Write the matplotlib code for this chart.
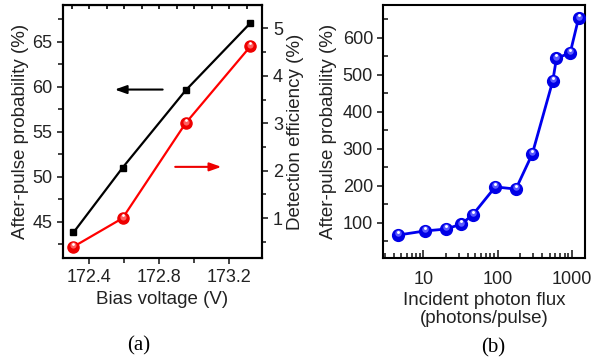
import matplotlib
matplotlib.use('Agg')
import matplotlib.pyplot as plt
from matplotlib.ticker import MultipleLocator, LogLocator, NullFormatter
from matplotlib.transforms import offset_copy

# panel (a): bias voltage sweep
bias_v = [172.31, 172.59, 172.95, 173.32]
afterpulse_pct = [43.8, 51.0, 59.6, 67.1]
det_eff_pct = [0.40, 1.00, 3.00, 4.62]

# panel (b): after-pulse vs incident flux
flux = [4.6, 10.5, 20, 32, 46, 93, 176, 293, 553, 620, 950, 1230]
afterpulse_flux = [67, 78, 83, 96, 121, 197, 191, 286, 483, 544, 559, 652]

plt.rcParams['font.family'] = ['Liberation Sans', 'DejaVu Sans']
TXT = '#222222'
FS = 13


def ball(ax, x, y, color, light, size):
    # fake shaded sphere marker: base, lighter core, white glint
    ax.plot(x, y, 'o', ms=size, color=color, mec=color, zorder=4)
    tr = offset_copy(ax.transData, fig=ax.figure, x=0, y=1.2, units='points')
    ax.plot(x, y, 'o', ms=size * 0.55, color=light, mec='none', zorder=5, transform=tr)
    tr2 = offset_copy(ax.transData, fig=ax.figure, x=0, y=2.2, units='points')
    ax.plot(x, y, 'o', ms=size * 0.25, color='white', mec='none', zorder=6, transform=tr2)


fig = plt.figure(figsize=(6.02, 3.61), dpi=100)
ax1 = fig.add_axes([0.104, 0.285, 0.332, 0.701])
ax2 = ax1.twinx()
ax3 = fig.add_axes([0.637, 0.285, 0.335, 0.701])

# ---- (a)
ax1.plot(bias_v, afterpulse_pct, '-s', color='black', lw=1.6, ms=4.5, zorder=3)
ax2.plot(bias_v, det_eff_pct, '-', color='#ff0000', lw=1.6, zorder=3)
ball(ax2, bias_v, det_eff_pct, '#ee0000', '#ff6060', 8)

ax1.set_xlim(172.248, 173.389)
ax1.set_ylim(40.95, 69.1)
ax2.set_ylim(0.16, 5.49)
ax1.xaxis.set_major_locator(MultipleLocator(0.4))
ax1.xaxis.set_minor_locator(MultipleLocator(0.2))
ax1.yaxis.set_major_locator(MultipleLocator(5))
ax1.yaxis.set_minor_locator(MultipleLocator(2.5))
ax2.yaxis.set_major_locator(MultipleLocator(1))
ax2.yaxis.set_minor_locator(MultipleLocator(0.5))
ax1.tick_params(axis='both', which='both', direction='out', labelsize=FS,
                colors=TXT, width=1.2, top=False)
ax1.tick_params(which='major', length=4)
ax1.tick_params(which='minor', length=3.5)
ax2.tick_params(axis='y', which='both', direction='out', labelsize=FS,
                colors=TXT, width=1.2)
ax2.tick_params(which='major', length=4)
ax2.tick_params(which='minor', length=3)
for a in (ax1, ax2):
    for s in a.spines.values():
        s.set_linewidth(1.5)

# inward top ticks every 0.1 V
top = ax1.secondary_xaxis('top')
top.xaxis.set_major_locator(MultipleLocator(0.1))
top.xaxis.set_major_formatter(NullFormatter())
top.tick_params(direction='in', length=3, width=1.2)

ax1.set_xlabel('Bias voltage (V)', fontsize=13.5, color=TXT, labelpad=4)
ax1.set_ylabel('After-pulse probability (%)', fontsize=13.5, color=TXT, labelpad=2)
ax2.set_ylabel('Detection efficiency (%)', fontsize=13.5, color=TXT, labelpad=3)

ax1.annotate('', xy=(172.53, 59.7), xytext=(172.835, 59.7),
             arrowprops=dict(arrowstyle='-|>,head_length=0.7,head_width=0.25',
                             color='black', lw=1.5))
ax1.annotate('', xy=(173.17, 51.1), xytext=(172.875, 51.1),
             arrowprops=dict(arrowstyle='-|>,head_length=0.7,head_width=0.25',
                             color='#ee0000', lw=1.5))

# ---- (b)
ax3.plot(flux, afterpulse_flux, '-', color='#0000ee', lw=2.0, zorder=3)
ball(ax3, flux, afterpulse_flux, '#0000e6', '#5a5aff', 8.5)
ax3.set_xscale('log')
ax3.set_xlim(2.9, 1510)
ax3.set_ylim(4.6, 688)
ax3.xaxis.set_minor_locator(LogLocator(base=10, subs=range(2, 10), numticks=10))
ax3.xaxis.set_minor_formatter(NullFormatter())
ax3.yaxis.set_minor_locator(MultipleLocator(50))
ax3.set_xticks([10, 100, 1000])
ax3.set_xticklabels(['10', '100', '1000'])
ax3.set_yticks([100, 200, 300, 400, 500, 600])
ax3.tick_params(axis='x', which='major', direction='in', length=6, width=1.2)
ax3.tick_params(axis='x', which='minor', direction='in', length=3.5, width=1.2)
ax3.tick_params(axis='y', which='major', direction='out', length=4, width=1.2)
ax3.tick_params(axis='y', which='minor', direction='in', length=3.5, width=1.2)
ax3.tick_params(axis='both', which='both', labelsize=FS, colors=TXT)
ax3.tick_params(axis='x', which='major', pad=9)
for s in ax3.spines.values():
    s.set_linewidth(1.5)
ax3.set_xlabel('Incident photon flux\n(photons/pulse)', fontsize=13.5, color=TXT,
               labelpad=3, linespacing=1.12)
ax3.set_ylabel('After-pulse probability (%)', fontsize=13.5, color=TXT, labelpad=4)

fig.text(0.231, 0.043, '(a)', family=['Liberation Serif', 'DejaVu Serif'],
         fontsize=15, ha='center', va='center', color='black')
fig.text(0.819, 0.036, '(b)', family=['Liberation Serif', 'DejaVu Serif'],
         fontsize=15, ha='center', va='center', color='black')

fig.savefig('out.png', dpi=100)
